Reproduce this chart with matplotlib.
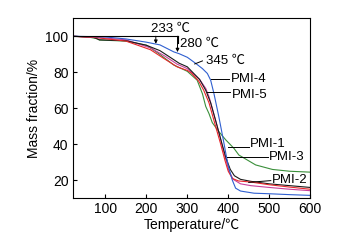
import numpy as np
import matplotlib.pyplot as plt

plt.rcParams['font.family'] = ['Liberation Sans', 'Noto Sans CJK SC', 'DejaVu Sans']
plt.rcParams['font.size'] = 10

# TGA curves (temperature in C, mass fraction in %)
t_pmi1 = [20, 60, 80, 85, 150, 200, 230, 267, 300, 324, 337, 345, 353, 361, 377, 394, 414, 426, 467, 508, 550, 600]
m_pmi1 = [100, 99.5, 98.6, 97.9, 97.3, 95, 90.4, 84, 80.5, 75.6, 68, 61, 57, 52, 47, 42.4, 37.7, 34, 28.5, 26, 25, 24.5]

t_pmi2 = [20, 80, 100, 150, 210, 243, 275, 300, 310, 328, 340, 353, 369, 381, 392, 400, 410, 425, 455, 500, 550, 600]
m_pmi2 = [100, 99.2, 98.6, 97.3, 92.5, 87.6, 83, 81, 79.5, 75, 70, 63, 50, 40.5, 31, 25, 21, 19.6, 19, 17.5, 16.2, 15]

t_pmi3 = [20, 70, 85, 150, 200, 233, 260, 280, 300, 330, 345, 357, 373, 385, 395, 405, 415, 430, 455, 500, 550, 600]
m_pmi3 = [100, 99.5, 98, 97.5, 95, 92, 88, 85, 83, 76, 70, 63, 50, 40, 32, 26, 22.5, 20.5, 19.4, 18, 17, 16]

t_pmi4 = [20, 100, 150, 200, 233, 267, 280, 300, 320, 337, 349, 357, 365, 377, 388, 394, 400, 410, 418, 430, 463, 500, 550, 600]
m_pmi4 = [100, 99.6, 98.5, 96.7, 95.2, 91.3, 90.3, 88.3, 85, 82, 79.3, 75.6, 68.2, 55.3, 42.4, 35, 28, 20, 15.6, 14, 12.8, 12.5, 12, 11.6]

t_pmi5 = [20, 100, 150, 210, 245, 275, 300, 330, 345, 353, 369, 381, 392, 402, 412, 430, 455, 500, 550, 600]
m_pmi5 = [100, 99, 98, 93.5, 89, 84.5, 82, 76, 71, 66.4, 53.4, 43, 33, 25, 20.5, 18, 17, 16, 15, 14.2]

series = [
    (t_pmi1, m_pmi1, '#3a8f3a'),
    (t_pmi5, m_pmi5, '#c8409c'),
    (t_pmi3, m_pmi3, '#1a1a1a'),
    (t_pmi2, m_pmi2, '#e8262a'),
    (t_pmi4, m_pmi4, '#2f5fd0'),
]

fig = plt.figure(figsize=(3.4, 2.4), dpi=100)
ax = fig.add_axes([0.214, 0.174, 0.698, 0.75])

for t, m, c in series:
    ax.plot(t, m, color=c, lw=0.8)

ax.set_xlim(20, 600)
ax.set_ylim(10, 110)
ax.set_xticks([100, 200, 300, 400, 500, 600])
ax.set_yticks([20, 40, 60, 80, 100])
ax.tick_params(direction='in', length=3, width=0.8, labelsize=10, pad=3)
for s in ax.spines.values():
    s.set_linewidth(0.8)
ax.set_xlabel('Temperature/℃', fontsize=10, labelpad=1)
ax.set_ylabel('Mass fraction/%', fontsize=10, labelpad=3)

# onset marks
ax.plot([20, 276], [100, 100], color='k', lw=0.8)
ax.plot([276, 276], [100, 96], color='k', lw=0.8)
arr = dict(arrowstyle='-|>', color='k', lw=0.7, mutation_scale=5, shrinkA=0, shrinkB=0)
ax.annotate('', xy=(223, 95.8), xytext=(223, 100), arrowprops=arr)
ax.annotate('', xy=(276, 91.2), xytext=(276, 100), arrowprops=arr)
ax.text(212, 104.3, '233 ℃', va='center', ha='left', fontsize=9.5)
ax.text(282, 95.8, '280 ℃', va='center', ha='left', fontsize=9.5)
ax.plot([318, 337], [84.6, 86.3], color='k', lw=0.7)
ax.text(345, 86.3, '345 ℃', va='center', ha='left', fontsize=9.5)

# series labels with leaders: name, leader start, leader end, text centre y
labels = [
    ('PMI-4', (359, 76.0), (403, 76.0), 76.2),
    ('PMI-5', (349, 69.2), (405, 69.2), 67.6),
    ('PMI-1', (400, 38.4), (451, 38.4), 40.3),
    ('PMI-3', (398, 33.0), (497, 33.0), 32.9),
    ('PMI-2', (450, 18.8), (504, 19.8), 20.4),
]
for name, p0, p1, ty in labels:
    ax.plot([p0[0], p1[0]], [p0[1], p1[1]], color='k', lw=0.7)
    ax.text(p1[0] + 3, ty, name, va='center', ha='left', fontsize=9.5)

fig.savefig('out.png', dpi=100)
